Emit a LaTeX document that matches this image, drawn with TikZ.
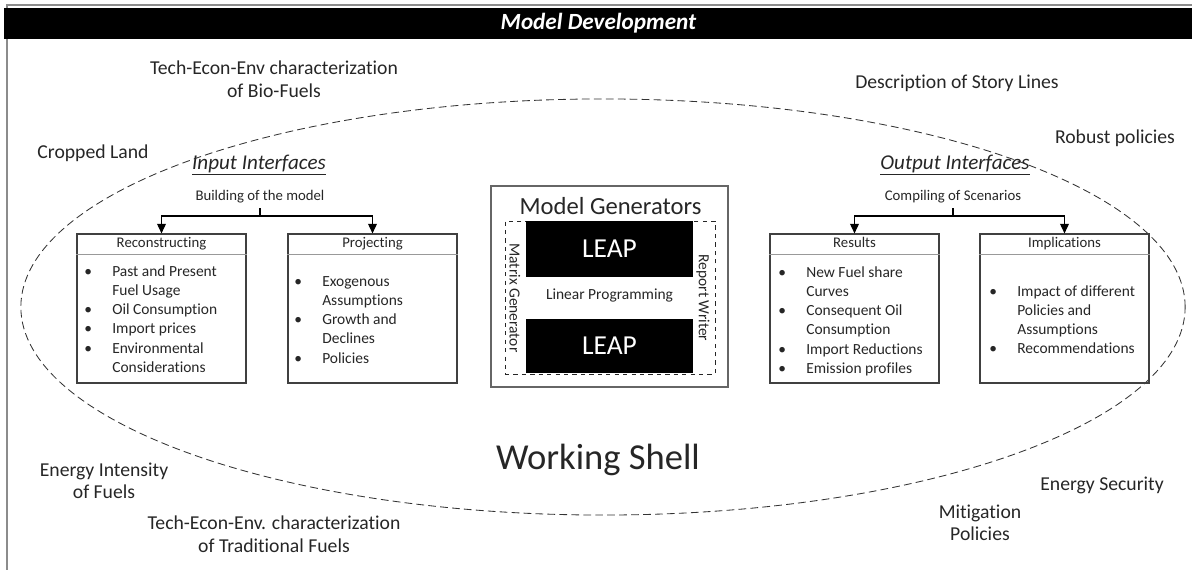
\documentclass[tikz,border=0pt]{standalone}
\usepackage{fontspec}
\setmainfont{Carlito}[Ligatures=NoCommon]
\usetikzlibrary{arrows.meta,positioning,calc}

% bullet lines inside the list boxes
\newcommand{\bitem}[1]{\makebox[0.7cm][l]{\textbullet}#1}
\newcommand{\bcont}[1]{\hspace*{0.7cm}#1}

\begin{document}
\begin{tikzpicture}[
    x=0.025cm, y=-0.025cm,
    lbl/.style={align=center, font=\fontsize{14}{16}\selectfont, text=black!85},
    iface/.style={font=\fontsize{15}{18}\selectfont\itshape, text=black!85},
    sub/.style={font=\fontsize{10.5}{12}\selectfont, text=black!85},
    listbox/.style={draw=black!75, line width=0.8pt, minimum width=4.225cm, minimum height=3.725cm, inner sep=0pt},
    head/.style={font=\fontsize{10.5}{12}\selectfont, text=black!85, anchor=base},
    items/.style={font=\fontsize{11}{13.7}\selectfont, align=left, anchor=north west, inner sep=0pt, text=black!85},
    leap/.style={fill=black, text=white, minimum width=4.175cm, font=\fontsize{19.5}{22}\selectfont, inner sep=0pt},
    arr/.style={-{Triangle[length=2.4mm, width=2.2mm]}, line width=0.8pt},
]
  \useasboundingbox (0,0) rectangle (1192,570);

  % frame and title bar
  \draw[black!45, line width=1pt] (7,570) -- (7,5) -- (1192,5);
  \node[fill=black, minimum width=29.7cm, minimum height=0.775cm, inner sep=0pt,
        text=white, font=\fontsize{16.5}{18}\selectfont\bfseries\itshape] (bar) at (598.5,23.5) {Model Development};

  % working shell
  \draw[black!80, line width=0.6pt, dash pattern=on 5.5pt off 3pt] (603,307) ellipse [x radius=14.55cm, y radius=5.2cm];
  \node[font=\fontsize{26}{30}\selectfont, text=black!85] (shell) at (598,460) {Working Shell};

  % labels around the shell
  \node[lbl] (biofuels)   at (274,79)   {Tech-Econ-Env characterization\\of Bio-Fuels};
  \node[lbl] (story)      at (957,83)   {Description of Story Lines};
  \node[lbl] (robust)     at (1115,138) {Robust policies};
  \node[lbl] (cropped)    at (93,153)   {Cropped Land};
  \node[lbl] (intensity)  at (104,481)  {Energy Intensity\\of Fuels};
  \node[lbl] (tradfuels)  at (274,534)  {Tech-Econ-Env. characterization\\of Traditional Fuels};
  \node[lbl] (mitigation) at (980,523)  {Mitigation\\Policies};
  \node[lbl] (security)   at (1102,485) {Energy Security};

  % input side
  \node[iface] (inif)  at (259,165) {\underline{Input Interfaces}};
  \node[sub]   (build) at (260,197) {Building of the model};
  \node[listbox] (recon) at (161.5,308.5) {};
  \node[listbox] (proj)  at (372.5,308.5) {};
  \node[head] (reconhead) at (161.5,248) {Reconstructing};
  \node[head] (projhead)  at (372.5,248) {Projecting};
  \draw[black!40] (recon.west |- 0,254) -- (recon.east |- 0,254);
  \draw[black!40] (proj.west |- 0,254) -- (proj.east |- 0,254);
  \node[items] (reconlist) at (84,265) {\bitem{Past and Present}\\ \bcont{Fuel Usage}\\ \bitem{Oil Consumption}\\
    \bitem{Import prices}\\ \bitem{Environmental}\\ \bcont{Considerations}};
  \node[items] (projlist) at (294,276) {\bitem{Exogenous}\\ \bcont{Assumptions}\\ \bitem{Growth and}\\
    \bcont{Declines}\\ \bitem{Policies}};
  \coordinate (bj) at (260,216);
  \draw[line width=0.8pt] (build.south) -- (bj);
  \draw[arr] (bj) -| (recon.north);
  \draw[arr] (bj) -| (proj.north);

  % model generators
  \node[draw=black!60, line width=0.8pt, minimum width=5.925cm, minimum height=5.025cm] (mg) at (609.5,286.5) {};
  \node[font=\fontsize{17.5}{20}\selectfont, text=black!85] (mgtitle) at (610.5,206) {Model Generators};
  \node[draw=black!85, dashed, line width=0.6pt, minimum width=5.25cm, minimum height=3.825cm] (gen) at (610,297.5) {};
  \node[leap, minimum height=1.4cm]  (leaptop) at (609.5,249) {LEAP};
  \node[leap, minimum height=1.35cm] (leapbot) at (609.5,346) {LEAP};
  \node[font=\fontsize{11}{13}\selectfont, text=black!85] (lp) at (609.5,296) {Linear Programming};
  \node[rotate=-90, font=\fontsize{11}{13}\selectfont, text=black!85] (matgen) at (515,298) {Matrix Generator};
  \node[rotate=-90, font=\fontsize{11}{13}\selectfont, text=black!85] (repwr)  at (703,298) {Report Writer};

  % output side
  \node[iface] (outif) at (955,165) {\underline{Output Interfaces}};
  \node[sub]   (comp)  at (953,197) {Compiling of Scenarios};
  \node[listbox] (res) at (854.5,308.5) {};
  \node[listbox] (impl) at (1064.5,308.5) {};
  \node[head] (reshead)  at (854.5,248) {Results};
  \node[head] (implhead) at (1064.5,248) {Implications};
  \draw[black!40] (res.west |- 0,254) -- (res.east |- 0,254);
  \draw[black!40] (impl.west |- 0,254) -- (impl.east |- 0,254);
  \node[items] (reslist) at (778,266) {\bitem{New Fuel share}\\ \bcont{Curves}\\ \bitem{Consequent Oil}\\
    \bcont{Consumption}\\ \bitem{Import Reductions}\\ \bitem{Emission profiles}};
  \node[items] (impllist) at (989,285) {\bitem{Impact of different}\\ \bcont{Policies and}\\ \bcont{Assumptions}\\
    \bitem{Recommendations}};
  \coordinate (cj) at (953,216);
  \draw[line width=0.8pt] (comp.south) -- (cj);
  \draw[arr] (cj) -| (res.north);
  \draw[arr] (cj) -| (impl.north);
\end{tikzpicture}
\end{document}
